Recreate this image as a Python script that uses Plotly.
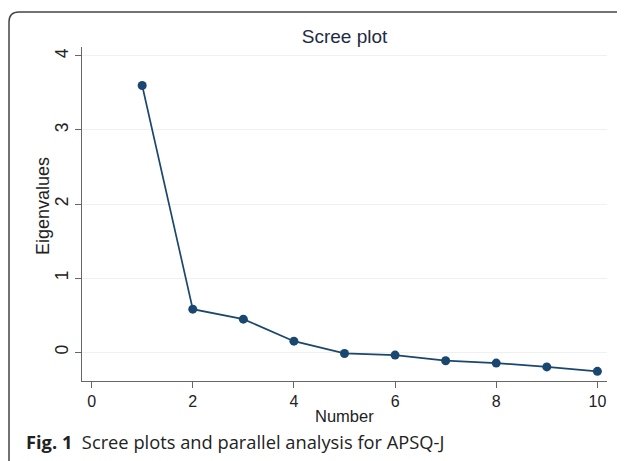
import plotly.graph_objects as go

number = [1, 2, 3, 4, 5, 6, 7, 8, 9, 10]
eigenvalues = [3.60, 0.58, 0.445, 0.148, -0.018, -0.04, -0.116, -0.148, -0.20, -0.26]
x_ticks = [0, 2, 4, 6, 8, 10]
y_ticks = [0, 1, 2, 3, 4]

W, H = 625, 461
OFF = 8  # page body margin
L, R, T, B = 74, 26, 39, 88
pw, ph = W - L - R, H - T - B

def px(xs):
    return (xs - OFF - L) / pw

def py(ys):
    return (H - B - (ys - OFF)) / ph

navy = "#1a476f"

fig = go.Figure()
fig.add_trace(go.Scatter(
    x=number, y=eigenvalues, mode="lines+markers",
    line=dict(color=navy, width=1.7),
    marker=dict(color=navy, size=9),
    showlegend=False, hoverinfo="skip",
))

# rounded frame
lx, ty, rx_, by = px(9), py(12), px(700), py(520)
cx, cy = 10 / pw, 10 / ph
path = f"M {lx},{by} L {lx},{ty - cy} Q {lx},{ty} {lx + cx},{ty} L {rx_},{ty}"

fig.update_layout(
    width=W, height=H,
    margin=dict(l=L, r=R, t=T, b=B),
    paper_bgcolor="white", plot_bgcolor="white",
    font=dict(family="Liberation Sans, Arial, sans-serif", color="#222222", size=16),
    title=dict(text="Scree plot", x=0.5, xref="paper", xanchor="center",
               y=1 - (36.7 - OFF) / H, yref="container", yanchor="middle",
               font=dict(size=19, color="#1e2b45")),
    xaxis=dict(range=[-0.19, 10.19], tickvals=x_ticks, showgrid=False, zeroline=False,
               showline=True, linecolor="#666666", linewidth=1.3,
               ticks="outside", ticklen=6, tickcolor="#666666",
               tickfont=dict(size=16, color="#222222")),
    yaxis=dict(range=[-0.39, 4.12], tickvals=y_ticks, showgrid=True, gridcolor="#f0f0f0",
               gridwidth=1, zeroline=False,
               showline=True, linecolor="#666666", linewidth=1.3,
               ticks="outside", ticklen=6, tickcolor="#666666", tickangle=-90,
               tickfont=dict(size=17.5, color="#222222")),
    shapes=[dict(type="path", path=path, xref="paper", yref="paper",
                 line=dict(color="#444444", width=1.5), layer="above")],
    annotations=[
        dict(text="Eigenvalues", x=px(43), y=py(206), xref="paper", yref="paper",
             textangle=-90, showarrow=False, xanchor="center", yanchor="middle",
             font=dict(size=18, color="#222222")),
        dict(text="Number", x=px(344), y=py(416), xref="paper", yref="paper",
             showarrow=False, xanchor="center", yanchor="middle",
             font=dict(size=16.5, color="#222222")),
        dict(text="<b>Fig. 1</b>  Scree plots and parallel analysis for APSQ-J",
             x=px(24), y=py(441), xref="paper", yref="paper",
             showarrow=False, xanchor="left", yanchor="middle",
             font=dict(size=18.3, color="#222222", family="Open Sans, sans-serif")),
    ],
)

fig.write_html("out.html")
